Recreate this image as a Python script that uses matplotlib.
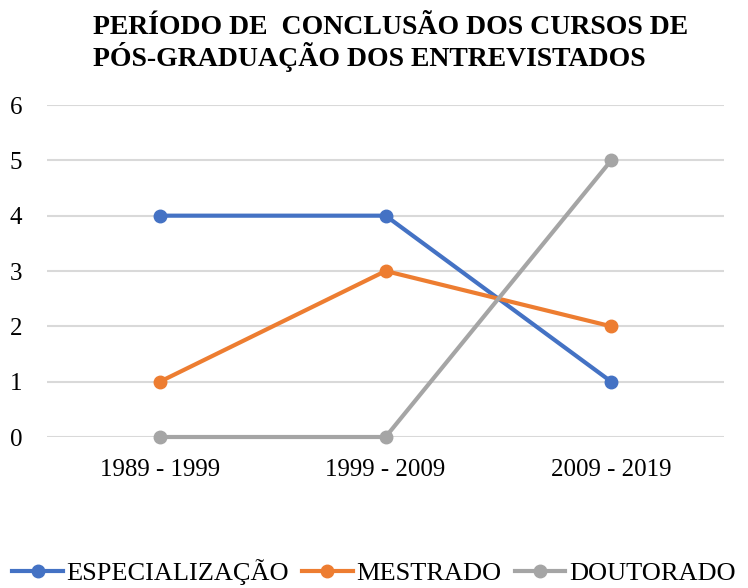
import matplotlib.pyplot as plt

periodos = ['1989 - 1999', '1999 - 2009', '2009 - 2019']
especializacao = [4, 4, 1]
mestrado = [1, 3, 2]
doutorado = [0, 0, 5]

plt.rcParams['font.family'] = ['Liberation Serif', 'DejaVu Serif']

fig = plt.figure(figsize=(7.48, 5.88), dpi=100)
ax = fig.add_axes([0.063, 0.2568, 0.905, 0.5646])

x = range(len(periodos))
ax.plot(x, especializacao, color='#4472C4', lw=3, marker='o', ms=9, label='ESPECIALIZAÇÃO', clip_on=False)
ax.plot(x, mestrado, color='#ED7D31', lw=3, marker='o', ms=9, label='MESTRADO', clip_on=False)
ax.plot(x, doutorado, color='#A5A5A5', lw=3, marker='o', ms=9, label='DOUTORADO', clip_on=False)

ax.set_xlim(-0.5, 2.5)
ax.set_ylim(0, 6)
ax.set_xticks(list(x))
ax.set_xticklabels(periodos)
ax.set_yticks(range(7))
ax.tick_params(length=0, labelsize=18, colors='black')
ax.tick_params(axis='y', pad=18)
ax.tick_params(axis='x', pad=16)
ax.grid(axis='y', color='#D9D9D9', lw=1.5)
ax.set_axisbelow(True)
for s in ax.spines.values():
    s.set_visible(False)

fig.text(0.124, 0.975, 'PERÍODO DE  CONCLUSÃO DOS CURSOS DE\nPÓS-GRADUAÇÃO DOS ENTREVISTADOS',
         ha='left', va='top', fontsize=20, fontweight='bold', linespacing=1.1)

fig.legend(loc='lower center', bbox_to_anchor=(0.5, -0.035), ncol=3, frameon=False,
           fontsize=19, handlelength=1.9, handletextpad=0.15, columnspacing=0.5)

fig.savefig('out.png', dpi=100)
